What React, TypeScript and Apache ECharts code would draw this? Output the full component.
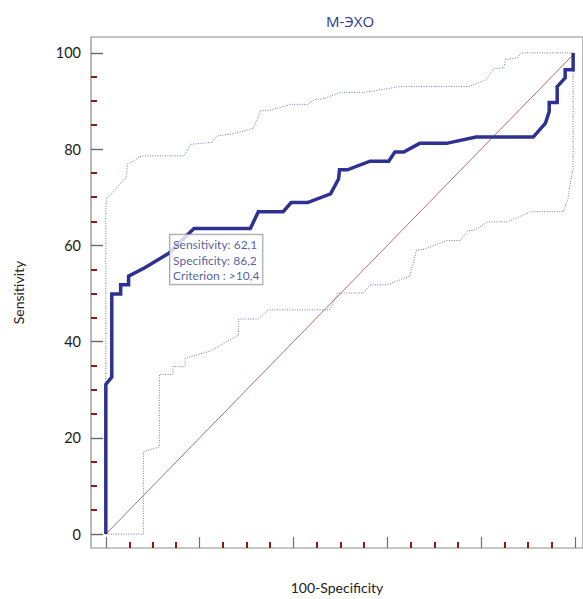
import React, { useEffect, useRef } from "react";
import * as echarts from "echarts";

const title = "М-ЭХО";
const xName = "100-Specificity";
const yName = "Sensitivity";
const yTickLabels = [0, 20, 40, 60, 80, 100];
const xMajorTicks = [0, 20, 40, 60, 80, 100];
const minorTicks = [5, 10, 15, 25, 30, 35, 45, 50, 55, 65, 70, 75, 85, 90, 95];

const rocX = [0, 0, 1.27, 1.27, 3.16, 3.16, 4.85, 4.85, 8.2, 13.5, 17.3, 18.8, 30.8, 32.5, 37.8, 39.5, 43.0, 47.9, 49.6, 49.8, 51.5, 56.3, 60.3, 61.6, 63.5, 66.9, 72.6, 78.9, 91.1, 93.7, 94.5, 94.5, 96.2, 96.2, 97.9, 97.9, 99.6, 99.6];
const rocY = [0, 31.1, 32.6, 49.9, 49.9, 51.8, 51.8, 53.6, 55.3, 58.4, 62.1, 63.5, 63.5, 67.0, 67.0, 68.9, 68.9, 70.7, 73.8, 75.7, 75.7, 77.5, 77.5, 79.4, 79.4, 81.2, 81.2, 82.5, 82.5, 85.4, 87.8, 89.7, 89.7, 93.0, 94.8, 96.5, 96.5, 100];

const upperX = [0, 0, 0.2, 4.4, 4.6, 5.5, 7.6, 16.7, 18.1, 22.6, 23.6, 27.6, 31.4, 33.1, 34.6, 39.5, 43.0, 44.5, 46.6, 50.0, 55.1, 62.7, 77.4, 81.0, 82.7, 84.8, 85.2, 87.8, 88.4, 99.6];
const upperY = [0, 68.2, 69.7, 74.2, 76.9, 77.3, 78.6, 78.6, 81.0, 81.4, 82.7, 83.3, 84.3, 88.0, 88.0, 89.3, 89.3, 90.3, 90.5, 91.8, 91.8, 93.0, 93.0, 94.4, 96.7, 96.9, 98.6, 99.0, 100, 100];

const lowerX = [0, 8.0, 8.0, 11.4, 11.4, 14.3, 14.3, 16.9, 16.9, 22.4, 28.3, 28.3, 32.5, 34.6, 47.7, 49.4, 54.9, 56.3, 59.9, 64.8, 66.2, 67.9, 72.6, 75.5, 77.2, 78.5, 81.4, 85.7, 90.5, 97.5, 98.5, 99.2, 99.6, 99.6];
const lowerY = [0, 0, 17.1, 18.1, 33.2, 33.2, 34.8, 34.8, 36.5, 38.1, 41.4, 44.7, 44.7, 46.6, 46.6, 50.1, 50.1, 51.8, 51.8, 53.6, 59.0, 59.2, 61.0, 61.0, 63.1, 63.1, 64.9, 64.9, 67.0, 67.0, 69.7, 74.2, 75.9, 100];

const diagX = [0, 100];
const diagY = [0, 100];

const cutoffPoint = [13.8, 62.1];
const cutoffLines = ["Sensitivity: 62,1", "Specificity: 86,2", "Criterion : >10,4"];

const zip = (xs: number[], ys: number[]) => xs.map((x, i) => [x, ys[i]]);

export default function App() {
  const ref = useRef<HTMLDivElement>(null);
  useEffect(() => {
    if (!ref.current) return;
    const chart = echarts.init(ref.current, undefined, { renderer: "svg" });
    const font = "Lato, 'Open Sans', sans-serif";
    const xCommon = { type: "value", min: -3.16, max: 101.7, splitLine: { show: false } };
    const yCommon = { type: "value", min: -2.89, max: 103.3, splitLine: { show: false } };
    const noLine = { show: false, onZero: false };
    chart.setOption({
      animation: false,
      backgroundColor: "#fff",
      title: {
        text: title,
        left: 345,
        top: 8,
        textAlign: "center",
        textStyle: { fontFamily: "'Open Sans', sans-serif", fontSize: 15, fontWeight: "normal", color: "#2b3a8f" },
      },
      grid: { left: 91, right: -5, top: 37, bottom: 47, show: true, borderColor: "#8c8c8c", borderWidth: 1.2 },
      xAxis: [
        {
          ...xCommon,
          position: "bottom",
          name: xName,
          nameLocation: "middle",
          nameGap: 32,
          nameTextStyle: { fontFamily: font, fontSize: 14, color: "#222" },
          axisLine: noLine,
          axisLabel: { show: false },
          axisTick: { show: true, inside: true, length: 11, customValues: xMajorTicks, lineStyle: { color: "#6e6e6e", width: 1.2 } },
        },
        {
          ...xCommon,
          position: "bottom",
          axisLine: noLine,
          axisLabel: { show: false },
          axisTick: { show: true, inside: true, length: 6, customValues: minorTicks, lineStyle: { color: "#8b1a1a", width: 2 } },
        },
      ],
      yAxis: [
        {
          ...yCommon,
          position: "left",
          name: yName,
          nameLocation: "middle",
          nameGap: 66,
          nameTextStyle: { fontFamily: font, fontSize: 14, color: "#222" },
          axisLine: noLine,
          axisLabel: { show: true, customValues: yTickLabels, margin: 10, fontFamily: font, fontSize: 14.5, color: "#1a1a1a" },
          axisTick: { show: false },
        },
        {
          ...yCommon,
          position: "left",
          axisLine: noLine,
          axisLabel: { show: false },
          axisTick: { show: true, inside: true, length: 6, customValues: minorTicks, lineStyle: { color: "#8b1a1a", width: 2 } },
        },
      ],
      series: [
        {
          type: "line",
          data: zip(upperX, upperY),
          symbol: "none",
          lineStyle: { color: "#6f7bb0", width: 1, type: [1, 1.5] },
          silent: true,
        },
        {
          type: "line",
          data: zip(lowerX, lowerY),
          symbol: "none",
          lineStyle: { color: "#6f7bb0", width: 1, type: [1, 1.5] },
          silent: true,
        },
        {
          type: "line",
          data: zip(diagX, diagY),
          symbol: "none",
          lineStyle: { color: "#b0706a", width: 1 },
          silent: true,
          markLine: {
            silent: true,
            symbol: "none",
            label: { show: false },
            lineStyle: { color: "#666", width: 1.4, type: "solid" },
            data: yTickLabels.map((v) => [
              { coord: [-3.16, v] },
              { coord: [-0.6, v] },
            ]),
          },
        },
        {
          type: "line",
          data: zip(rocX, rocY),
          symbol: "none",
          lineStyle: { color: "#2e3192", width: 3.5, join: "miter" },
          z: 5,
        },
        {
          type: "scatter",
          data: [cutoffPoint],
          symbolSize: 1,
          itemStyle: { color: "transparent" },
          z: 10,
          label: {
            show: true,
            position: [0, 0],
            align: "left",
            verticalAlign: "top",
            formatter: cutoffLines.join("\n"),
            fontFamily: font,
            fontSize: 12,
            lineHeight: 15.5,
            color: "#2a3585",
            backgroundColor: "#fff",
            borderColor: "#8a8a8a",
            borderWidth: 1,
            padding: [2, 3, 1, 3],
          },
        },
      ],
    });
    return () => chart.dispose();
  }, []);
  return <div ref={ref} style={{ width: 583, height: 599, position: "absolute", left: 0, top: 0 }} />;
}
